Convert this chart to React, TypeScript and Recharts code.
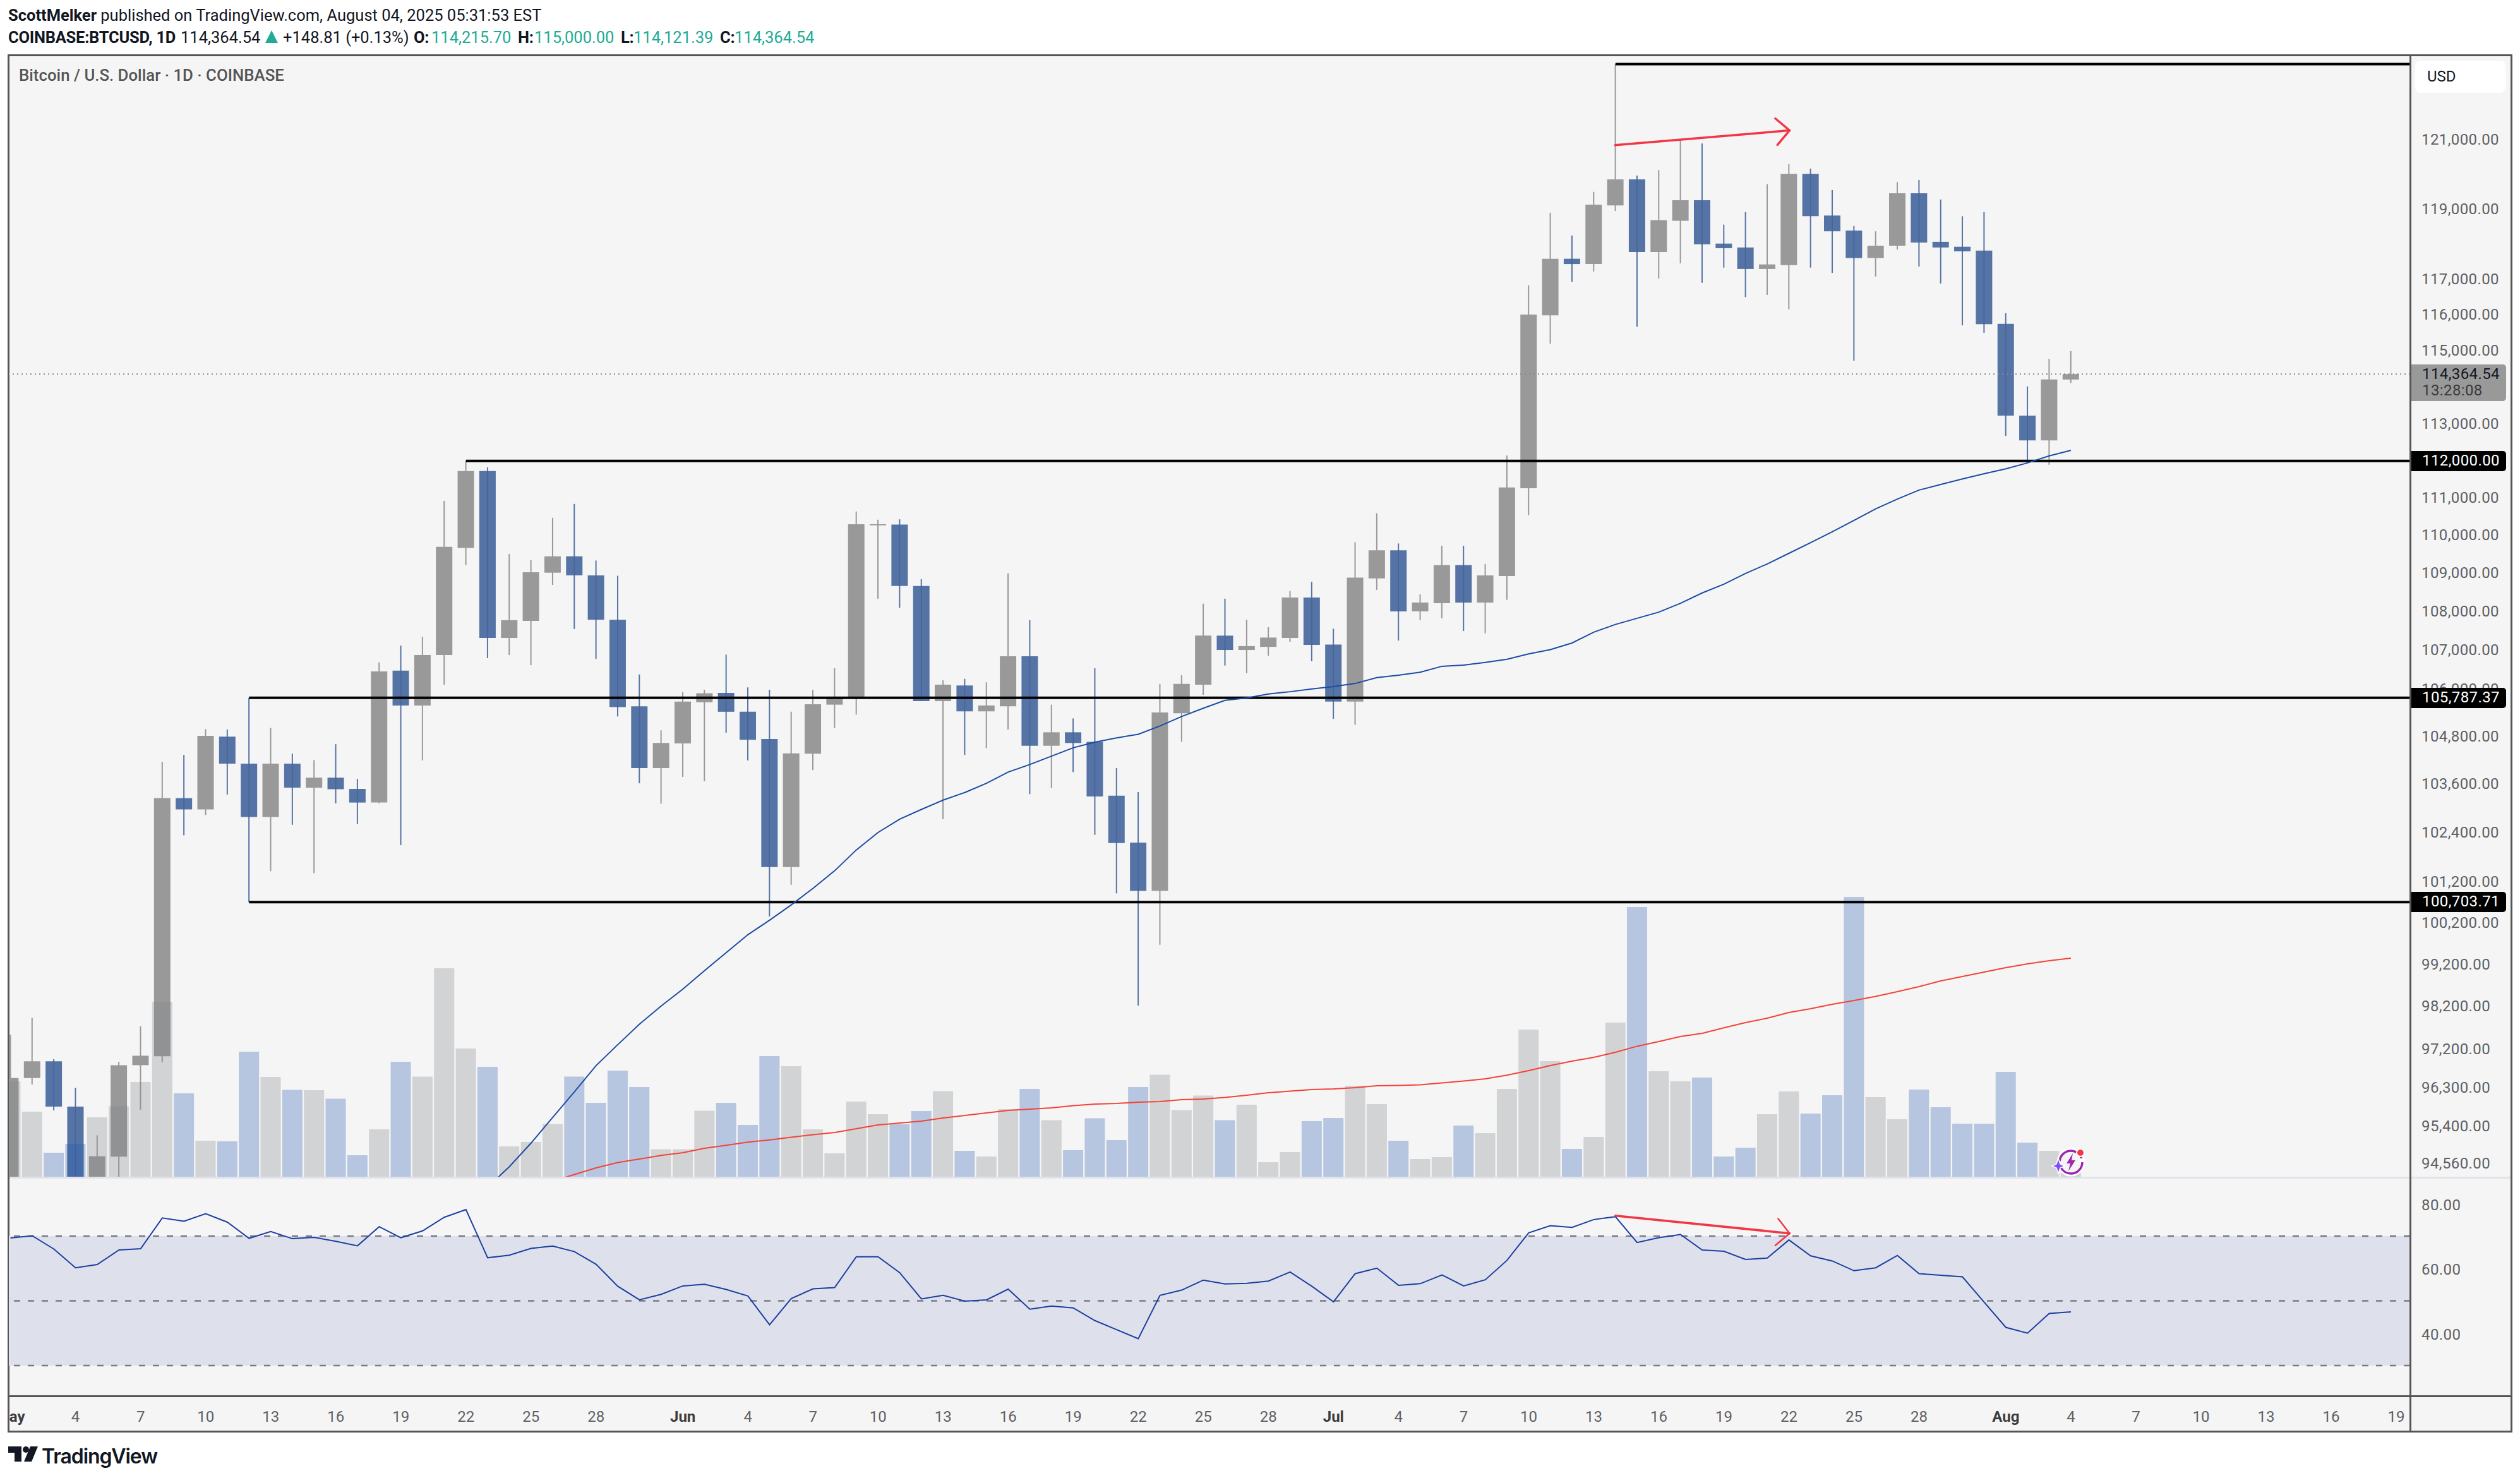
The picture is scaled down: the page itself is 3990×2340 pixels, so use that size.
import { Bar, Cell, ComposedChart, Line, LineChart, ReferenceArea, ReferenceLine, XAxis, YAxis } from 'recharts';

// one entry per daily candle, starting 1 May 2025
const opens = [94210, 96490, 96880, 95830, 94200, 94680, 96790, 97000, 103220, 102940, 104760, 104080, 102750, 104080, 103480, 103730, 103450, 103110, 106440, 105550, 106840, 109630, 111680, 107280, 107720, 108980, 109410, 108910, 107750, 105530, 103970, 104590, 105630, 105870, 105390, 104700, 101520, 104330, 105570, 105740, 110230, 110250, 108630, 105660, 106060, 105400, 105530, 106810, 104530, 104870, 104630, 103280, 102120, 100940, 105350, 106080, 107340, 106970, 107050, 107280, 108330, 107110, 105650, 108830, 109570, 107970, 108180, 109180, 108200, 108890, 111220, 115950, 117540, 117390, 119060, 119810, 117730, 118620, 119210, 117970, 117860, 117250, 117360, 119970, 118770, 118340, 117560, 117910, 119410, 118020, 117880, 117770, 115710, 113180, 112510, 114170];
const highs = [97500, 97900, 96930, 96260, 95170, 96870, 97700, 104130, 104300, 104950, 104940, 105745, 104980, 104330, 104170, 104570, 103700, 106650, 107080, 107310, 110880, 111955, 111780, 109470, 109310, 110430, 110800, 109300, 108900, 106340, 104920, 105890, 105950, 106850, 106010, 105950, 105390, 105950, 106500, 110600, 110380, 110390, 108810, 106190, 106230, 106140, 108960, 107740, 105570, 105220, 106500, 103970, 103370, 106100, 106320, 108170, 108300, 107750, 107560, 108500, 108740, 107520, 109780, 110550, 109750, 108410, 109690, 109690, 109210, 112100, 116790, 118850, 118200, 119450, 123180, 119920, 120080, 120940, 120850, 118510, 118870, 119670, 120250, 120120, 119500, 118470, 118320, 119730, 119790, 119230, 118750, 118870, 116010, 113980, 114740, 114955];
const lows = [94100, 96340, 95740, 93900, 94100, 94100, 95760, 96860, 102300, 102800, 103310, 100665, 101420, 102560, 101370, 103090, 102580, 103090, 102060, 104160, 106080, 109180, 106760, 106840, 106580, 108660, 107510, 106740, 105270, 103590, 103080, 103750, 103640, 104860, 104160, 100320, 101090, 103920, 104980, 105320, 108300, 108060, 105660, 102700, 104300, 104470, 104940, 103320, 103470, 103870, 102310, 100880, 98190, 99640, 104630, 105820, 106570, 106370, 106820, 107180, 106680, 105210, 105060, 108530, 107210, 107740, 107790, 107460, 107400, 108270, 110500, 115160, 116890, 117180, 118900, 115630, 116980, 117410, 116860, 117290, 116460, 116520, 116120, 117290, 117140, 114690, 117040, 117800, 117320, 116840, 115670, 115460, 112630, 111950, 111850, 114075];
const closes = [96490, 96880, 95830, 94200, 94690, 96790, 97010, 103220, 102940, 104780, 104080, 102750, 104080, 103480, 103730, 103440, 103110, 106420, 105550, 106840, 109660, 111680, 107280, 107740, 108990, 109410, 108910, 107750, 105510, 103970, 104600, 105650, 105860, 105390, 104680, 101520, 104340, 105580, 105760, 110260, 110260, 108630, 105660, 106080, 105400, 105550, 106810, 104530, 104870, 104600, 103260, 102110, 100940, 105370, 106100, 107340, 106970, 107070, 107290, 108330, 107100, 105650, 108850, 109570, 107970, 108200, 109180, 108200, 108910, 111240, 115970, 117540, 117390, 119080, 119810, 117730, 118640, 119210, 117950, 117840, 117250, 117380, 119970, 118750, 118320, 117560, 117910, 119410, 118000, 117860, 117750, 115700, 113180, 112510, 114170, 114320];
const volumes = [9550, 7150, 3900, 4600, 6700, 7575, 9500, 15850, 8600, 4850, 4800, 11900, 9900, 8875, 8850, 8175, 3700, 5750, 11100, 9925, 18500, 12150, 10700, 4400, 4750, 6175, 9925, 7850, 10400, 9100, 4175, 4175, 7225, 7850, 6100, 11550, 10750, 5750, 3850, 7950, 6950, 6150, 7200, 8775, 4050, 3600, 7350, 8950, 6475, 4100, 6630, 4900, 9100, 10075, 7280, 8430, 6475, 7700, 3150, 3950, 6400, 6650, 9200, 7750, 4850, 3400, 3550, 6050, 5450, 8950, 13650, 11150, 4200, 5150, 14200, 23350, 10350, 9550, 9850, 3600, 4300, 6950, 8750, 7000, 8450, 24150, 8300, 6550, 8900, 7500, 6200, 6200, 10300, 4700, 4050, 2800];
const priceMa = [null, null, null, null, null, null, null, null, null, null, null, null, null, null, null, null, null, null, null, null, null, null, 93990, 94450, 94990, 95580, 96170, 96780, 97270, 97750, 98180, 98580, 99020, 99450, 99880, 100230, 100600, 101000, 101430, 101940, 102370, 102700, 102940, 103170, 103360, 103590, 103870, 104060, 104270, 104480, 104620, 104730, 104820, 105030, 105270, 105480, 105680, 105740, 105840, 105900, 105970, 106030, 106110, 106260, 106320, 106400, 106550, 106580, 106650, 106730, 106870, 106980, 107150, 107430, 107630, 107790, 107950, 108180, 108450, 108680, 108960, 109210, 109490, 109770, 110060, 110360, 110670, 110930, 111170, 111320, 111470, 111610, 111740, 111900, 112090, 112240];
const volumeMa = [null, null, null, null, null, null, null, null, null, null, null, null, null, null, null, null, null, null, null, null, null, null, null, null, null, 1650, 2175, 2700, 3120, 3400, 3685, 3895, 4245, 4490, 4735, 4910, 5120, 5330, 5500, 5800, 6095, 6250, 6400, 6650, 6850, 7050, 7250, 7350, 7450, 7625, 7750, 7800, 7900, 7950, 8100, 8150, 8275, 8450, 8650, 8775, 8900, 8950, 9050, 9200, 9230, 9270, 9425, 9575, 9750, 10035, 10400, 10800, 11150, 11450, 11850, 12330, 12700, 13100, 13350, 13785, 14200, 14550, 15000, 15300, 15650, 15950, 16275, 16650, 17050, 17500, 17850, 18200, 18550, 18850, 19100, 19300];
const rsi = [69.4, 70.1, 66.0, 60.2, 61.2, 65.7, 66.1, 75.6, 74.6, 76.9, 74.3, 69.3, 71.4, 69.2, 69.6, 68.4, 67.0, 72.9, 69.5, 71.6, 75.8, 78.2, 63.3, 64.1, 66.2, 66.9, 65.2, 61.3, 54.5, 50.3, 52.0, 54.6, 55.1, 53.5, 51.5, 42.6, 50.7, 53.7, 54.1, 63.6, 63.6, 58.7, 50.6, 51.7, 49.9, 50.3, 53.6, 47.4, 48.4, 47.8, 43.9, 41.1, 38.3, 51.7, 53.3, 56.4, 55.2, 55.4, 56.1, 58.9, 54.5, 49.7, 58.4, 60.1, 54.8, 55.3, 58.0, 54.6, 56.5, 62.5, 71.0, 73.2, 72.7, 75.1, 76.0, 68.0, 69.5, 70.5, 65.7, 65.3, 62.8, 63.2, 68.8, 63.9, 62.3, 59.3, 60.2, 64.0, 58.4, 57.9, 57.4, 49.6, 41.8, 40.0, 46.1, 46.6];

const priceTicks = [121000, 119000, 117000, 116000, 115000, 113000, 111000, 110000, 109000, 108000, 107000, 106000, 104800, 103600, 102400, 101200, 100200, 99200, 98200, 97200, 96300, 95400, 94560];
const rsiTicks = [80, 60, 40];
const dateTicks: [number, string][] = [[0, 'May'], [3, '4'], [6, '7'], [9, '10'], [12, '13'], [15, '16'], [18, '19'], [21, '22'], [24, '25'], [27, '28'], [31, 'Jun'], [34, '4'], [37, '7'], [40, '10'], [43, '13'], [46, '16'], [49, '19'], [52, '22'], [55, '25'], [58, '28'], [61, 'Jul'], [64, '4'], [67, '7'], [70, '10'], [73, '13'], [76, '16'], [79, '19'], [82, '22'], [85, '25'], [88, '28'], [92, 'Aug'], [95, '4'], [98, '7'], [101, '10'], [104, '13'], [107, '16'], [110, '19']];
const monthLabels = ['May', 'Jun', 'Jul', 'Aug'];

// horizontal levels: [first day, price]
const levels: [number, number][] = [[74, 123180], [21, 111955], [11, 105745], [11, 100665]];
const lastPrice = 114320;

const priceArrow: [number, number, number, number][] = [[73.99, 120800, 82.03, 121230], [81.37, 121580, 82.03, 121230], [81.47, 120810, 82.03, 121230]];
const rsiArrow: [number, number, number, number][] = [[74, 76.3, 82.03, 70.84], [81.5, 75.4, 82.03, 70.84], [81.37, 67.13, 82.03, 70.84]];

const dayDomain: [number, number] = [-0.0757, 110.64];
const priceDomain: [number, number] = [94224, 123435];
const volumeDomain: [number, number] = [2000, 90750];
const rsiDomain: [number, number] = [20.63, 87.95];

const BLUE = '#5674a5';
const GRAY = '#999999';
const AXIS_TEXT = '#5f5f63';
const UI_FONT = 'Roboto, sans-serif';

const candles = opens.map((open, i) => ({
  day: i,
  wick: [lows[i], highs[i]],
  body: [Math.min(open, closes[i]), Math.max(open, closes[i])],
  up: closes[i] >= open,
  volume: volumes[i],
  ma: priceMa[i],
  volMa: volumeMa[i],
  rsi: rsi[i],
}));

function money(v: number) {
  return v.toLocaleString('en-US', { minimumFractionDigits: 2, maximumFractionDigits: 2 });
}

function PriceTick({ x, y, payload }: any) {
  return (
    <text x={x + 10} y={y} dy={10} fontSize={24} fontFamily={UI_FONT} fill={AXIS_TEXT} letterSpacing={0.4}>
      {money(payload.value)}
    </text>
  );
}

function DateTick({ x, y, payload }: any) {
  const label = dateTicks.find((t) => t[0] === payload.value)?.[1] ?? '';
  const month = monthLabels.includes(label);
  return (
    <text x={x} y={y} dy={33} textAnchor="middle" fontSize={24} fontFamily={UI_FONT} fontWeight={month ? 700 : 400} fill={month ? '#3c3c40' : AXIS_TEXT}>
      {label}
    </text>
  );
}

function Badge({ top, text }: { top: number; text: string }) {
  return (
    <div style={{ position: 'absolute', left: 3818, top, width: 150, height: 32, background: '#000', color: '#fff', borderRadius: '0 5px 5px 0', font: `24px ${UI_FONT}`, lineHeight: '31px', paddingLeft: 17, boxSizing: 'border-box', letterSpacing: 0.4 }}>
      {text}
    </div>
  );
}

// second header row: [left, text, bold, green]
const ohlcRow: [number, string, boolean, boolean][] = [
  [13, 'COINBASE:BTCUSD, 1D', true, false],
  [286, '114,364.54', false, false],
  [448, '+148.81 (+0.13%)', false, false],
  [655, 'O:', true, false],
  [683, '114,215.70', false, true],
  [820, 'H:', true, false],
  [846, '115,000.00', false, true],
  [983, 'L:', true, false],
  [1003, '114,121.39', false, true],
  [1140, 'C:', true, false],
  [1163, '114,364.54', false, true],
];

function Header() {
  const row = { position: 'absolute', whiteSpace: 'nowrap', font: `25.5px ${UI_FONT}`, color: '#131722' } as const;
  return (
    <>
      <div style={{ ...row, left: 13, top: 9 }}><b>ScottMelker</b> published on TradingView.com, August 04, 2025 05:31:53 EST</div>
      {ohlcRow.map(([left, text, bold, green]) => (
        <div key={left} style={{ ...row, left, top: 44, fontWeight: bold ? 700 : 400, letterSpacing: bold ? -0.25 : 0, color: green ? '#22ab94' : '#131722' }}>{text}</div>
      ))}
      <div style={{ position: 'absolute', left: 420, top: 48, width: 0, height: 0, borderLeft: '10.5px solid transparent', borderRight: '10.5px solid transparent', borderBottom: '20px solid #22ab94' }} />
    </>
  );
}

function PricePane() {
  return (
    <ComposedChart width={3962} height={1775} data={candles} margin={{ top: 0, right: 0, bottom: 0, left: 0 }} barGap={0}>
      <XAxis xAxisId="line" dataKey="day" type="number" domain={dayDomain} allowDataOverflow hide />
      <XAxis xAxisId="wick" dataKey="day" type="number" domain={dayDomain} allowDataOverflow hide />
      <XAxis xAxisId="body" dataKey="day" type="number" domain={dayDomain} allowDataOverflow hide />
      <XAxis xAxisId="vol" dataKey="day" type="number" domain={dayDomain} allowDataOverflow hide />
      <YAxis yAxisId="price" orientation="right" width={160} scale="log" domain={priceDomain} allowDataOverflow ticks={priceTicks} interval={0} axisLine={false} tickLine={false} tick={<PriceTick />} />
      <YAxis yAxisId="vol" orientation="right" hide domain={volumeDomain} allowDataOverflow />

      <ReferenceLine xAxisId="line" yAxisId="price" y={lastPrice} stroke="#8a8a8a" strokeWidth={2} strokeDasharray="2 5" />
      {levels.map(([day, price]) => (
        <ReferenceLine key={price} xAxisId="line" yAxisId="price" segment={[{ x: day, y: price }, { x: dayDomain[1], y: price }]} stroke="#000" strokeWidth={4} />
      ))}

      <Bar xAxisId="wick" yAxisId="price" dataKey="wick" barSize={2} isAnimationActive={false}>
        {candles.map((c) => <Cell key={c.day} fill={c.up ? GRAY : BLUE} />)}
      </Bar>
      <Bar xAxisId="body" yAxisId="price" dataKey="body" barSize={26} isAnimationActive={false}>
        {candles.map((c) => <Cell key={c.day} fill={c.up ? GRAY : 'rgba(68,102,156,0.9)'} />)}
      </Bar>
      <Bar xAxisId="vol" yAxisId="vol" dataKey="volume" barSize={32} isAnimationActive={false}>
        {candles.map((c) => <Cell key={c.day} fill={c.up ? 'rgba(128,131,138,0.3)' : 'rgba(38,88,175,0.3)'} />)}
      </Bar>

      <Line xAxisId="line" yAxisId="price" dataKey="ma" stroke="#1c4ca4" strokeWidth={2} dot={false} isAnimationActive={false} />
      <Line xAxisId="line" yAxisId="vol" dataKey="volMa" stroke="#f44336" strokeWidth={2} dot={false} isAnimationActive={false} />

      {priceArrow.map(([x1, y1, x2, y2], i) => (
        <ReferenceLine key={i} xAxisId="line" yAxisId="price" segment={[{ x: x1, y: y1 }, { x: x2, y: y2 }]} stroke="#f23645" strokeWidth={3.5} strokeLinecap="round" />
      ))}
    </ComposedChart>
  );
}

function RsiPane() {
  return (
    <LineChart width={3962} height={401} data={candles} margin={{ top: 0, right: 0, bottom: 0, left: 0 }}>
      <XAxis dataKey="day" type="number" domain={dayDomain} allowDataOverflow ticks={dateTicks.map((t) => t[0])} interval={0} height={56} axisLine={false} tickLine={false} tick={<DateTick />} />
      <YAxis orientation="right" width={160} domain={rsiDomain} allowDataOverflow ticks={rsiTicks} interval={0} axisLine={false} tickLine={false} tick={<PriceTick />} />
      <ReferenceArea y1={30} y2={70} fill="#dee1eb" fillOpacity={1} strokeWidth={0} />
      {[70, 50, 30].map((v) => (
        <ReferenceLine key={v} y={v} stroke="#787b86" strokeWidth={2.5} strokeDasharray="10 12" />
      ))}
      <Line dataKey="rsi" stroke="#1c3fa0" strokeWidth={2} dot={false} isAnimationActive={false} />
      {rsiArrow.map(([x1, y1, x2, y2], i) => (
        <ReferenceLine key={i} segment={[{ x: x1, y: y1 }, { x: x2, y: y2 }]} stroke="#f23645" strokeWidth={i === 0 ? 3.5 : 2.5} strokeLinecap="round" />
      ))}
    </LineChart>
  );
}

export default function App() {
  return (
    <div style={{ position: 'absolute', left: 0, top: 0, width: 3990, height: 2340, background: '#fff', overflow: 'hidden' }}>
      <Header />

      {/* chart frame */}
      <div style={{ position: 'absolute', left: 12, top: 86, width: 3966, height: 2182, background: '#f5f5f5', border: '3px solid #555', boxSizing: 'border-box' }} />

      <div style={{ position: 'absolute', left: 14, top: 88 }}><PricePane /></div>
      <div style={{ position: 'absolute', left: 14, top: 1865 }}><RsiPane /></div>

      {/* dividers */}
      <div style={{ position: 'absolute', left: 15, top: 1863, width: 3960, height: 3, background: '#e0e3eb' }} />
      <div style={{ position: 'absolute', left: 3815, top: 88, width: 3, height: 2178, background: '#555' }} />
      <div style={{ position: 'absolute', left: 14, top: 2209, width: 3962, height: 3, background: '#555' }} />

      <div style={{ position: 'absolute', left: 30, top: 104, font: `500 25.8px ${UI_FONT}`, color: '#555' }}>Bitcoin / U.S. Dollar · 1D · COINBASE</div>

      <div style={{ position: 'absolute', left: 3824, top: 96, width: 143, height: 51, background: '#fff', borderRadius: 8, font: `24px ${UI_FONT}`, lineHeight: '50px', paddingLeft: 19, boxSizing: 'border-box', color: '#131722' }}>USD</div>
      <div style={{ position: 'absolute', left: 3818, top: 577, width: 150, height: 58, background: '#999', borderRadius: '0 5px 5px 0', font: `24px ${UI_FONT}`, lineHeight: '26px', paddingLeft: 17, paddingTop: 2, boxSizing: 'border-box', color: '#131722', letterSpacing: 0.4 }}>
        114,364.54<br /><span style={{ color: '#3a3a3a' }}>13:28:08</span>
      </div>
      <Badge top={714} text="112,000.00" />
      <Badge top={1089} text="105,787.37" />
      <Badge top={1412} text="100,703.71" />

      {/* flash icon on the last volume bar */}
      <svg style={{ position: 'absolute', left: 3245, top: 1812 }} width={60} height={60} viewBox="0 0 60 60">
        <circle cx={34} cy={28} r={19} fill="#f5f5f5" stroke="#fff" strokeWidth={7} />
        <circle cx={34} cy={28} r={18} fill="none" stroke="#9c27b0" strokeWidth={3.5} strokeDasharray="48 10" />
        <path d="M37 14 L27 30 L33 30 L30 42 L41 25 L35 25 Z" fill="#9c27b0" />
        <path d="M14 22 L17 31 L24 34 L17 37 L14 46 L11 37 L4 34 L11 31 Z" fill="#7c4dff" stroke="#fff" strokeWidth={1.5} />
        <circle cx={49} cy={13} r={6} fill="#f23645" stroke="#fff" strokeWidth={2} />
      </svg>

      {/* footer logo */}
      <svg style={{ position: 'absolute', left: 13, top: 2290 }} width={48} height={26} viewBox="0 0 48 26">
        <path d="M0 0 H21 V24 H10 V10 H0 Z" fill="#131722" />
        <circle cx={28} cy={5} r={5} fill="#131722" />
        <path d="M35 0 H47 L37 24 H25 Z" fill="#131722" />
      </svg>
      <div style={{ position: 'absolute', left: 66, top: 2286, font: `600 32px Inter, ${UI_FONT}`, letterSpacing: -1.1, color: '#131722' }}>TradingView</div>
    </div>
  );
}
